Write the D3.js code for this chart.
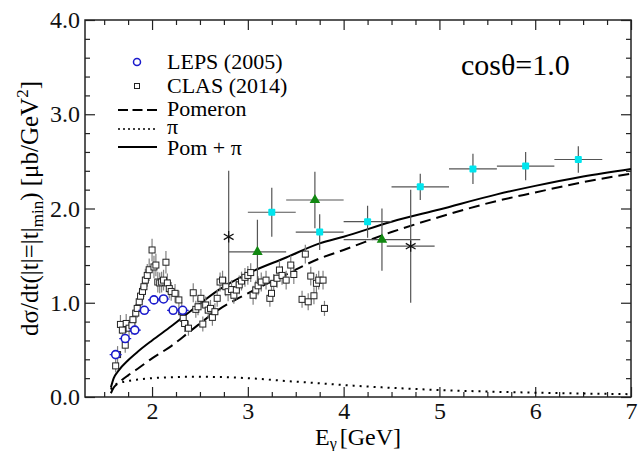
<!DOCTYPE html>
<html>
<head>
<meta charset="utf-8">
<script src="https://cdn.jsdelivr.net/npm/d3@7"></script>
<style>
  body { margin: 0; background: #fff; }
  svg, svg text { font-family: "Liberation Serif", "Times New Roman", Times, "DejaVu Serif", serif; }
</style>
</head>
<body>
<div id="chart"></div>
<script>
const serif = "'Liberation Serif', 'Times New Roman', Times, serif";

// LEPS (2005)
const lepsE = [1.62, 1.72, 1.82, 1.92, 2.02, 2.12, 2.22, 2.32];
const lepsY = [0.45, 0.62, 0.71, 0.92, 1.03, 1.04, 0.92, 0.92];
const lepsErr = [0.04, 0.04, 0.04, 0.04, 0.04, 0.04, 0.04, 0.04];

// CLAS (2014)
const clasE = [1.62, 1.64, 1.67, 1.69, 1.72, 1.73, 1.76, 1.79, 1.80, 1.83, 1.845, 1.866, 1.88, 1.90,
  1.915, 1.93, 1.95, 1.97, 2.00, 2.02, 2.04, 2.06, 2.08, 2.10, 2.12, 2.145, 2.16, 2.18, 2.20, 2.24,
  2.28, 2.31, 2.325, 2.34, 2.38, 2.43, 2.457, 2.48, 2.51, 2.53, 2.56, 2.586, 2.61, 2.63, 2.656,
  2.68, 2.71, 2.736, 2.77, 2.794, 2.83, 2.854, 2.88, 2.91, 2.934, 2.97, 3.00, 3.03, 3.055, 3.083,
  3.107, 3.14, 3.19, 3.23, 3.247, 3.27, 3.305, 3.33, 3.357, 3.40, 3.448, 3.48, 3.566, 3.60, 3.63,
  3.657, 3.69, 3.716, 3.74, 3.785, 3.80];
const clasY = [0.33, 0.45, 0.77, 0.71, 0.55, 0.78, 0.73, 0.76, 0.82, 0.89, 0.94, 1.01, 1.07, 1.12,
  1.17, 1.24, 1.29, 1.35, 1.56, 1.38, 1.40, 1.22, 1.21, 1.22, 1.24, 1.43, 1.21, 1.15, 1.12, 1.10,
  1.03, 0.905, 0.835, 0.78, 0.73, 1.106, 0.93, 0.957, 1.047, 0.774, 0.976, 0.922, 0.94, 0.845, 0.905,
  1.047, 1.22, 1.24, 1.17, 1.117, 1.14, 1.08, 1.135, 1.19, 1.23, 1.27, 1.29, 1.32, 1.08, 1.135,
  1.18, 1.22, 1.24, 1.047, 1.10, 1.206, 1.26, 1.347, 1.29, 1.24, 1.40, 1.30, 1.036, 1.516, 1.01,
  1.283, 1.074, 1.206, 1.24, 1.24, 0.94];
const clasErr = [0.07, 0.09, 0.10, 0.09, 0.08, 0.10, 0.09, 0.10, 0.10, 0.10, 0.10, 0.11, 0.11, 0.11,
  0.11, 0.12, 0.12, 0.12, 0.12, 0.12, 0.12, 0.11, 0.11, 0.11, 0.11, 0.12, 0.10, 0.10, 0.10, 0.10,
  0.10, 0.10, 0.09, 0.09, 0.08, 0.10, 0.09, 0.09, 0.10, 0.08, 0.09, 0.09, 0.09, 0.09, 0.09,
  0.09, 0.10, 0.10, 0.10, 0.10, 0.10, 0.09, 0.10, 0.10, 0.10, 0.10, 0.10, 0.10, 0.10, 0.10,
  0.10, 0.10, 0.10, 0.09, 0.09, 0.10, 0.10, 0.10, 0.10, 0.10, 0.10, 0.10, 0.09, 0.10, 0.09,
  0.10, 0.09, 0.10, 0.10, 0.10, 0.08];

// other data sets: cyan squares, green triangles, black stars
const cyanE = [3.25, 3.75, 4.25, 4.80, 5.35, 5.90, 6.45];
const cyanY = [1.96, 1.75, 1.86, 2.23, 2.42, 2.45, 2.52];
const cyanErrE = [0.25, 0.25, 0.25, 0.30, 0.25, 0.30, 0.25];
const cyanErrY = [0.26, 0.19, 0.17, 0.14, 0.16, 0.15, 0.14];

const greenE = [3.10, 3.70, 4.40];
const greenY = [1.54, 2.09, 1.67];
const greenErrE = [0.30, 0.30, 0.40];
const greenErrY = [0.34, 0.30, 0.33];

const starE = [2.80, 4.70];
const starY = [1.70, 1.60];
const starErrE = [0, 0.25];
const starErrUp = [0.70, 0.60];
const starErrDown = [0.56, 0.60];

// model curves
const curveE = [1.57, 1.60, 1.65, 1.75, 1.85, 2.0, 2.2, 2.4, 2.7, 3.0, 3.4, 3.75, 4.0, 4.5, 5.0, 5.6, 6.0, 6.5, 7.0];
const pomeron = [0.04, 0.10, 0.15, 0.23, 0.30, 0.41, 0.54, 0.70, 0.93, 1.10, 1.30, 1.47, 1.56, 1.75, 1.91, 2.08, 2.17, 2.28, 2.37];
const pion = [0.08, 0.12, 0.145, 0.17, 0.185, 0.20, 0.21, 0.215, 0.212, 0.20, 0.17, 0.145, 0.127, 0.097, 0.074, 0.055, 0.046, 0.037, 0.03];
const pomPi = [0.10, 0.20, 0.28, 0.39, 0.48, 0.60, 0.75, 0.91, 1.14, 1.31, 1.48, 1.63, 1.70, 1.86, 1.99, 2.15, 2.24, 2.34, 2.42];

const xMajor = [2, 3, 4, 5, 6, 7];
const yMajor = [0, 1, 2, 3, 4];

const svgWidth = 639;
const svgHeight = 451;
const margin = { top: 20, right: 8, bottom: 54, left: 85 };
const width = svgWidth - margin.left - margin.right;
const height = svgHeight - margin.top - margin.bottom;

const svg = d3.select("#chart")
  .append("svg")
  .attr("width", svgWidth)
  .attr("height", svgHeight)
  .attr("font-family", serif);

const chartGroup = svg.append("g")
  .attr("transform", `translate(${margin.left}, ${margin.top})`);

const xScale = d3.scaleLinear().domain([1.3, 7]).range([0, width]);
const yScale = d3.scaleLinear().domain([0, 4]).range([height, 0]);

const xMinor = d3.range(1.5, 7, 0.25).filter(v => Math.abs(v - Math.round(v)) > 1e-6);
const yMinor = d3.range(0.2, 4, 0.2).filter(v => Math.abs(v - Math.round(v)) > 1e-6);

function styleAxis(g) {
  g.attr("font-family", serif);
  g.select(".domain").remove();
  g.selectAll("line").attr("stroke", "#222").attr("stroke-width", 1.2);
  g.selectAll("text").attr("font-family", serif).attr("font-size", 24).attr("fill", "#111");
}

// axes, ticks point inward
chartGroup.append("g")
  .attr("transform", `translate(0, ${height})`)
  .call(d3.axisBottom(xScale).tickValues(xMajor).tickSize(-10).tickPadding(5).tickFormat(d3.format("d")))
  .call(styleAxis);
chartGroup.append("g")
  .attr("transform", `translate(0, ${height})`)
  .call(d3.axisBottom(xScale).tickValues(xMinor).tickSize(-5).tickFormat(""))
  .call(styleAxis);
chartGroup.append("g")
  .call(d3.axisTop(xScale).tickValues(xMajor).tickSize(-10).tickFormat(""))
  .call(styleAxis);
chartGroup.append("g")
  .call(d3.axisTop(xScale).tickValues(xMinor).tickSize(-5).tickFormat(""))
  .call(styleAxis);

chartGroup.append("g")
  .call(d3.axisLeft(yScale).tickValues(yMajor).tickSize(-10).tickPadding(5).tickFormat(d3.format(".1f")))
  .call(styleAxis);
chartGroup.append("g")
  .call(d3.axisLeft(yScale).tickValues(yMinor).tickSize(-5).tickFormat(""))
  .call(styleAxis);
chartGroup.append("g")
  .attr("transform", `translate(${width}, 0)`)
  .call(d3.axisRight(yScale).tickValues(yMajor).tickSize(-10).tickFormat(""))
  .call(styleAxis);
chartGroup.append("g")
  .attr("transform", `translate(${width}, 0)`)
  .call(d3.axisRight(yScale).tickValues(yMinor).tickSize(-5).tickFormat(""))
  .call(styleAxis);

chartGroup.append("rect")
  .attr("width", width)
  .attr("height", height)
  .attr("fill", "none")
  .attr("stroke", "#222")
  .attr("stroke-width", 1.5);

// curves
const line = d3.line()
  .x(d => xScale(d[0]))
  .y(d => yScale(d[1]))
  .curve(d3.curveMonotoneX);

const curves = [
  { vals: pomeron, dash: "11,6" },
  { vals: pion, dash: "2,5" },
  { vals: pomPi, dash: null }
];
curves.forEach(c => {
  chartGroup.append("path")
    .datum(curveE.map((e, i) => [e, c.vals[i]]))
    .attr("d", line)
    .attr("fill", "none")
    .attr("stroke", "#000")
    .attr("stroke-width", 2)
    .attr("stroke-dasharray", c.dash);
});

// CLAS points
const clas = clasE.map((e, i) => ({ e: e, y: clasY[i], err: clasErr[i] }));
chartGroup.selectAll(".clasErr")
  .data(clas)
  .enter()
  .append("line")
  .attr("x1", d => xScale(d.e))
  .attr("x2", d => xScale(d.e))
  .attr("y1", d => yScale(d.y - d.err))
  .attr("y2", d => yScale(d.y + d.err))
  .attr("stroke", "#808080")
  .attr("stroke-width", 1.2);
chartGroup.selectAll(".clasPt")
  .data(clas)
  .enter()
  .append("rect")
  .attr("x", d => xScale(d.e) - 3)
  .attr("y", d => yScale(d.y) - 3)
  .attr("width", 6)
  .attr("height", 6)
  .attr("fill", "#fff")
  .attr("stroke", "#222")
  .attr("stroke-width", 1);

// LEPS points
const leps = lepsE.map((e, i) => ({ e: e, y: lepsY[i], err: lepsErr[i] }));
chartGroup.selectAll(".lepsErr")
  .data(leps)
  .enter()
  .append("path")
  .attr("d", d => {
    const cx = xScale(d.e), cy = yScale(d.y);
    return `M${cx},${yScale(d.y - d.err)}V${yScale(d.y + d.err)}M${cx - 6},${cy}H${cx + 6}`;
  })
  .attr("stroke", "#2222cc")
  .attr("stroke-width", 1.2);
chartGroup.selectAll(".lepsPt")
  .data(leps)
  .enter()
  .append("circle")
  .attr("cx", d => xScale(d.e))
  .attr("cy", d => yScale(d.y))
  .attr("r", 4)
  .attr("fill", "#fff")
  .attr("stroke", "#1a1acc")
  .attr("stroke-width", 1.6);

// points with x and y error bars
function crossBars(es, ys, errE, errUp, errDown) {
  es.forEach((e, i) => {
    chartGroup.append("path")
      .attr("d", `M${xScale(e - errE[i])},${yScale(ys[i])}H${xScale(e + errE[i])}` +
        `M${xScale(e)},${yScale(ys[i] + errUp[i])}V${yScale(ys[i] - errDown[i])}`)
      .attr("stroke", "#555")
      .attr("stroke-width", 1.2)
      .attr("fill", "none");
  });
}
crossBars(starE, starY, starErrE, starErrUp, starErrDown);
crossBars(greenE, greenY, greenErrE, greenErrY, greenErrY);
crossBars(cyanE, cyanY, cyanErrE, cyanErrY, cyanErrY);

const tri = d3.symbol().type(d3.symbolTriangle).size(48);
greenE.forEach((e, i) => {
  chartGroup.append("path")
    .attr("d", tri)
    .attr("transform", `translate(${xScale(e)}, ${yScale(greenY[i])})`)
    .attr("fill", "#118811");
});
cyanE.forEach((e, i) => {
  chartGroup.append("rect")
    .attr("x", xScale(e) - 3.5)
    .attr("y", yScale(cyanY[i]) - 3.5)
    .attr("width", 7)
    .attr("height", 7)
    .attr("rx", 1)
    .attr("fill", "#00e5ee");
});
const star = d3.symbol().type(d3.symbolAsterisk).size(90);
starE.forEach((e, i) => {
  chartGroup.append("path")
    .attr("d", star)
    .attr("transform", `translate(${xScale(e)}, ${yScale(starY[i])})`)
    .attr("stroke", "#111")
    .attr("stroke-width", 1.2);
});

// legend
const legend = svg.append("g").attr("font-size", 22);
const lx = 167;
legend.append("circle").attr("cx", 137).attr("cy", 62).attr("r", 3.5)
  .attr("fill", "none").attr("stroke", "#1a1acc").attr("stroke-width", 1.5);
legend.append("text").attr("x", lx).attr("y", 69).text("LEPS (2005)");
legend.append("rect").attr("x", 134.5).attr("y", 83.5).attr("width", 5).attr("height", 5)
  .attr("fill", "none").attr("stroke", "#222").attr("stroke-width", 1);
legend.append("text").attr("x", lx).attr("y", 93).text("CLAS (2014)");
legend.append("line").attr("x1", 118).attr("x2", 157).attr("y1", 110).attr("y2", 110)
  .attr("stroke", "#000").attr("stroke-width", 2).attr("stroke-dasharray", "10,4.5");
legend.append("text").attr("x", lx).attr("y", 116).text("Pomeron");
legend.append("line").attr("x1", 118).attr("x2", 157).attr("y1", 129).attr("y2", 129)
  .attr("stroke", "#000").attr("stroke-width", 1.6).attr("stroke-dasharray", "2,3");
legend.append("text").attr("x", lx).attr("y", 134).text("π");
legend.append("line").attr("x1", 118).attr("x2", 157).attr("y1", 147).attr("y2", 147)
  .attr("stroke", "#000").attr("stroke-width", 2);
legend.append("text").attr("x", lx).attr("y", 155).text("Pom + π");

svg.append("text")
  .attr("x", 461)
  .attr("y", 75)
  .attr("font-size", 30)
  .text("cosθ=1.0");

// axis titles
const xTitle = svg.append("text")
  .attr("x", margin.left + width / 2)
  .attr("y", 445)
  .attr("text-anchor", "middle")
  .attr("font-size", 24);
xTitle.append("tspan").text("E");
xTitle.append("tspan").attr("font-size", 16).attr("dy", 4).text("γ");
xTitle.append("tspan").attr("dy", -4).attr("dx", 3).text("[GeV]");

const yTitle = svg.append("text")
  .attr("transform", `translate(38, ${margin.top + height / 2}) rotate(-90)`)
  .attr("text-anchor", "middle")
  .attr("font-size", 25);
yTitle.append("tspan").text("dσ/dt(|t|=|t|");
yTitle.append("tspan").attr("font-size", 17).attr("dy", 5).text("min");
yTitle.append("tspan").attr("dy", -5).text(") [μb/GeV");
yTitle.append("tspan").attr("font-size", 17).attr("dy", -10).text("2");
yTitle.append("tspan").attr("dy", 10).text("]");
</script>
</body>
</html>
